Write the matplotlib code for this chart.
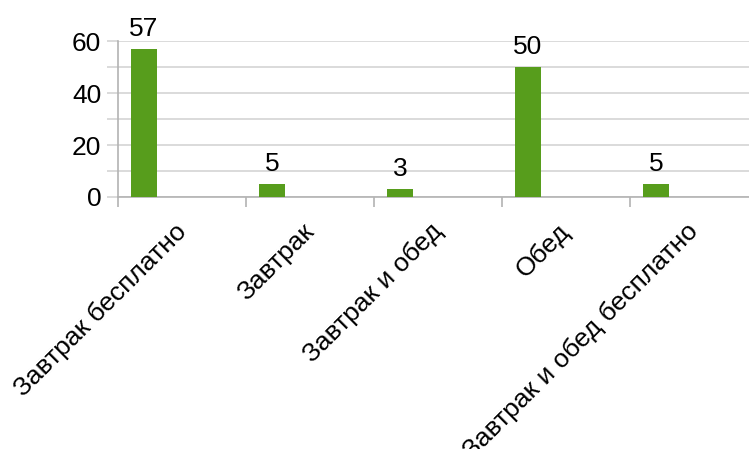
import matplotlib
matplotlib.use("Agg")
import numpy as np
from matplotlib import pyplot as plt
from matplotlib.ticker import MultipleLocator, FuncFormatter
from matplotlib.transforms import ScaledTranslation

plt.rcParams['font.family'] = ['Liberation Sans', 'DejaVu Sans']

# Data
categories = ['Завтрак бесплатно', 'Завтрак', 'Завтрак и обед', 'Обед',
              'Завтрак и обед бесплатно']
values = [57, 5, 3, 50, 5]

bar_color = '#579d1c'
grid_color = '#d4d4d4'
axis_color = '#b3b3b3'
fs = 19

W, H = 749, 449
fig = plt.figure(figsize=(W / 100, H / 100), dpi=100)
# plot area runs past the right edge of the picture, as in the original
left, right, top, bottom = 118, 758, 41.5, 197
ax = fig.add_axes([left / W, 1 - bottom / H, (right - left) / W, (bottom - top) / H])

x = np.arange(len(categories))
bar_offset = 0.203
bar_width = 0.203
bars = ax.bar(x + bar_offset, values, width=bar_width, color=bar_color, zorder=3)
for rect, v in zip(bars, values):
    ax.annotate(str(v), (rect.get_x() + rect.get_width() / 2, v),
                xytext=(0, 6), textcoords='offset points',
                ha='center', va='bottom', fontsize=fs, color='black')

ax.set_xlim(0, len(categories))
ax.set_ylim(0, 60)

# y axis: ticks every 10, labels every 20
ax.yaxis.set_major_locator(MultipleLocator(10))
ax.yaxis.set_major_formatter(FuncFormatter(lambda v, p: f'{int(v)}' if int(v) % 20 == 0 else ''))
ax.grid(axis='y', color=grid_color, linewidth=1.2, zorder=0)
ax.tick_params(axis='y', length=8, width=1.2, color=grid_color, pad=4,
               labelsize=fs)

# x axis: category boundaries get ticks, labels in the middle
ax.set_xticks(np.arange(len(categories) + 1))
ax.set_xticklabels([])
ax.set_xticks(x + 0.5, minor=True)
ax.set_xticklabels(categories, minor=True, rotation=45, ha='right',
                   va='top', rotation_mode='anchor', fontsize=fs)
ax.tick_params(axis='x', which='major', length=7.5, width=1.2, color=axis_color)
ax.tick_params(axis='x', which='minor', length=0, pad=16)
shift = ScaledTranslation(-8 / 100, 0, fig.dpi_scale_trans)
for lbl in ax.get_xticklabels(minor=True):
    lbl.set_transform(lbl.get_transform() + shift)

for side in ['top', 'right']:
    ax.spines[side].set_visible(False)
ax.spines['left'].set_color(axis_color)
ax.spines['bottom'].set_color(axis_color)
ax.spines['left'].set_linewidth(1.2)
ax.spines['bottom'].set_linewidth(1.2)

fig.savefig('out.png', dpi=100)
